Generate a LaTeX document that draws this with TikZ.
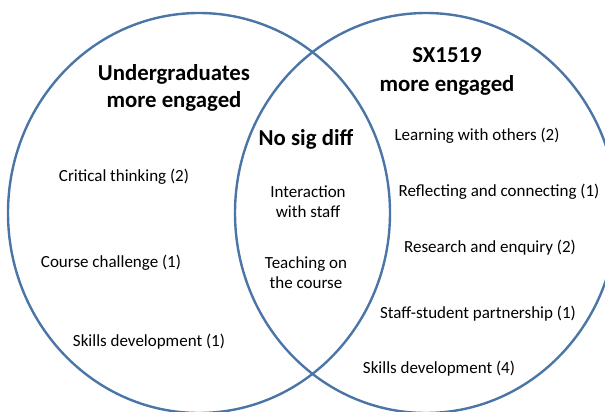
\documentclass[tikz,border=0pt]{standalone}
\usepackage{fontspec}
\setmainfont{Carlito}
\definecolor{vennblue}{HTML}{4A75A6}
\begin{document}
\begin{tikzpicture}[x=1pt,y=-1pt,
    ring/.style={draw=vennblue, line width=2.4pt},
    head/.style={font=\fontsize{22.8}{27}\selectfont\bfseries, align=center},
    item/.style={font=\fontsize{17}{20}\selectfont, align=center}]
\useasboundingbox (0,0) rectangle (605,412);

% Die beiden Kreise
\coordinate (left) at (199,213);
\coordinate (right) at (426,213);
\draw[ring] (left) ellipse [x radius=191, y radius=200];
\draw[ring] (right) ellipse [x radius=191, y radius=200];

% Ueberschriften
\node[head] (ughead) at (174,88) {Undergraduates\\more engaged};
\node[head, font=\fontsize{22.8}{29}\selectfont\bfseries] (sxhead) at (447,71) {SX1519\\more engaged};
\node[head] (nohead) at (306,139) {No sig diff};

% Eintraege links, Mitte, rechts
\foreach \name/\x/\y/\text in {
    ug1/124/177/{Critical thinking (2)},
    ug2/111/263/{Course challenge (1)},
    ug3/149/342/{Skills development (1)},
    mid1/308/202/{Interaction\\with staff},
    mid2/306/273/{Teaching on\\the course},
    sx1/477/136/{Learning with others (2)},
    sx2/499/192/{Reflecting and connecting (1)},
    sx3/490/248/{Research and enquiry (2)},
    sx4/478/314/{Staff-student partnership (1)},
    sx5/439/369/{Skills development (4)}} {
    \node[item] (\name) at (\x,\y) {\text};
}
\end{tikzpicture}
\end{document}
